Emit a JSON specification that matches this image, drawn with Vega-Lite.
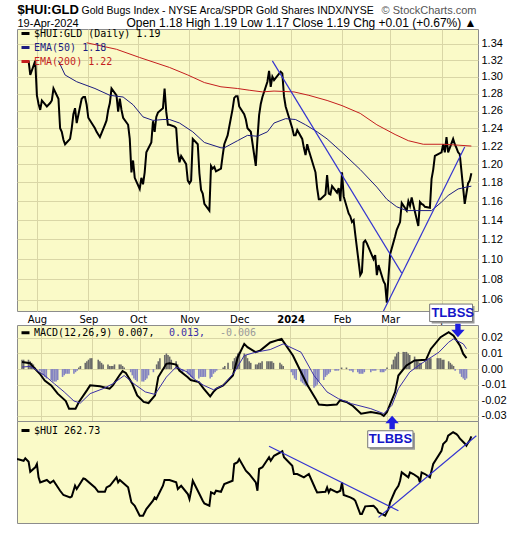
{
"$schema": "https://vega.github.io/schema/vega-lite/v6.json",
"background": "white",
"padding": {"left": 16, "top": 2, "right": 2, "bottom": 2},
"bounds": "flush",
"spacing": 14,
"resolve": {"scale": {"x": "independent", "y": "independent", "stroke": "independent"}, "legend": {"stroke": "independent"}},
"config": {
  "view": {"fill": "#fafac8", "stroke": "#8c8c8c"},
  "axis": {"gridColor": "#d9d6a6", "gridWidth": 1},
  "font": "Liberation Sans"
},
"datasets": {
"px": [
{"d":"2023-07-27","v":1.319},{"d":"2023-07-28","v":1.302},{"d":"2023-07-31","v":1.319},{"d":"2023-08-01","v":1.278},{"d":"2023-08-02","v":1.268},{"d":"2023-08-03","v":1.261},{"d":"2023-08-04","v":1.272},{"d":"2023-08-07","v":1.265},{"d":"2023-08-08","v":1.267},{"d":"2023-08-09","v":1.269},{"d":"2023-08-10","v":1.272},{"d":"2023-08-11","v":1.286},{"d":"2023-08-14","v":1.274},{"d":"2023-08-15","v":1.240},{"d":"2023-08-16","v":1.236},{"d":"2023-08-17","v":1.227},{"d":"2023-08-18","v":1.222},{"d":"2023-08-21","v":1.228},{"d":"2023-08-22","v":1.240},{"d":"2023-08-23","v":1.256},{"d":"2023-08-24","v":1.263},{"d":"2023-08-25","v":1.246},{"d":"2023-08-28","v":1.274},{"d":"2023-08-29","v":1.276},{"d":"2023-08-30","v":1.276},{"d":"2023-08-31","v":1.267},
{"d":"2023-09-01","v":1.252},{"d":"2023-09-05","v":1.240},{"d":"2023-09-06","v":1.236},{"d":"2023-09-07","v":1.233},{"d":"2023-09-08","v":1.230},{"d":"2023-09-11","v":1.244},{"d":"2023-09-12","v":1.249},{"d":"2023-09-13","v":1.261},{"d":"2023-09-14","v":1.269},{"d":"2023-09-15","v":1.286},{"d":"2023-09-18","v":1.278},{"d":"2023-09-19","v":1.259},{"d":"2023-09-20","v":1.274},{"d":"2023-09-21","v":1.261},{"d":"2023-09-22","v":1.252},{"d":"2023-09-25","v":1.244},{"d":"2023-09-26","v":1.228},{"d":"2023-09-27","v":1.191},{"d":"2023-09-28","v":1.204},{"d":"2023-09-29","v":1.185},
{"d":"2023-10-02","v":1.173},{"d":"2023-10-03","v":1.185},{"d":"2023-10-04","v":1.178},{"d":"2023-10-05","v":1.191},{"d":"2023-10-06","v":1.213},{"d":"2023-10-09","v":1.224},{"d":"2023-10-10","v":1.248},{"d":"2023-10-11","v":1.236},{"d":"2023-10-12","v":1.253},{"d":"2023-10-13","v":1.258},{"d":"2023-10-16","v":1.263},{"d":"2023-10-17","v":1.286},{"d":"2023-10-18","v":1.259},{"d":"2023-10-19","v":1.244},{"d":"2023-10-20","v":1.244},{"d":"2023-10-23","v":1.242},{"d":"2023-10-24","v":1.240},{"d":"2023-10-25","v":1.213},{"d":"2023-10-26","v":1.202},{"d":"2023-10-27","v":1.209},{"d":"2023-10-30","v":1.200},{"d":"2023-10-31","v":1.182},
{"d":"2023-11-01","v":1.179},{"d":"2023-11-02","v":1.182},{"d":"2023-11-03","v":1.228},{"d":"2023-11-06","v":1.222},{"d":"2023-11-07","v":1.190},{"d":"2023-11-08","v":1.172},{"d":"2023-11-09","v":1.168},{"d":"2023-11-10","v":1.157},{"d":"2023-11-13","v":1.150},{"d":"2023-11-14","v":1.198},{"d":"2023-11-15","v":1.195},{"d":"2023-11-16","v":1.197},{"d":"2023-11-17","v":1.192},{"d":"2023-11-20","v":1.195},{"d":"2023-11-21","v":1.209},{"d":"2023-11-22","v":1.222},{"d":"2023-11-24","v":1.232},{"d":"2023-11-27","v":1.262},{"d":"2023-11-28","v":1.275},{"d":"2023-11-29","v":1.277},{"d":"2023-11-30","v":1.277},
{"d":"2023-12-01","v":1.265},{"d":"2023-12-04","v":1.256},{"d":"2023-12-05","v":1.250},{"d":"2023-12-06","v":1.240},{"d":"2023-12-07","v":1.238},{"d":"2023-12-08","v":1.236},{"d":"2023-12-11","v":1.198},{"d":"2023-12-12","v":1.228},{"d":"2023-12-13","v":1.255},{"d":"2023-12-14","v":1.268},{"d":"2023-12-15","v":1.276},{"d":"2023-12-18","v":1.294},{"d":"2023-12-19","v":1.307},{"d":"2023-12-20","v":1.288},{"d":"2023-12-21","v":1.300},{"d":"2023-12-22","v":1.296},{"d":"2023-12-26","v":1.306},{"d":"2023-12-27","v":1.304},{"d":"2023-12-28","v":1.277},{"d":"2023-12-29","v":1.265},
{"d":"2024-01-02","v":1.240},{"d":"2024-01-03","v":1.232},{"d":"2024-01-04","v":1.232},{"d":"2024-01-05","v":1.238},{"d":"2024-01-08","v":1.228},{"d":"2024-01-09","v":1.218},{"d":"2024-01-10","v":1.210},{"d":"2024-01-11","v":1.222},{"d":"2024-01-12","v":1.215},{"d":"2024-01-16","v":1.191},{"d":"2024-01-17","v":1.174},{"d":"2024-01-18","v":1.162},{"d":"2024-01-19","v":1.162},{"d":"2024-01-22","v":1.167},{"d":"2024-01-23","v":1.188},{"d":"2024-01-24","v":1.168},{"d":"2024-01-25","v":1.167},{"d":"2024-01-26","v":1.176},{"d":"2024-01-29","v":1.169},{"d":"2024-01-30","v":1.174},{"d":"2024-01-31","v":1.160},
{"d":"2024-02-01","v":1.191},{"d":"2024-02-02","v":1.165},{"d":"2024-02-05","v":1.147},{"d":"2024-02-06","v":1.144},{"d":"2024-02-07","v":1.138},{"d":"2024-02-08","v":1.140},{"d":"2024-02-09","v":1.125},{"d":"2024-02-12","v":1.084},{"d":"2024-02-13","v":1.087},{"d":"2024-02-14","v":1.117},{"d":"2024-02-15","v":1.119},{"d":"2024-02-16","v":1.116},{"d":"2024-02-20","v":1.100},{"d":"2024-02-21","v":1.104},{"d":"2024-02-22","v":1.084},{"d":"2024-02-23","v":1.094},{"d":"2024-02-26","v":1.078},{"d":"2024-02-27","v":1.075},{"d":"2024-02-28","v":1.057},{"d":"2024-02-29","v":1.082},
{"d":"2024-03-01","v":1.105},{"d":"2024-03-04","v":1.123},{"d":"2024-03-05","v":1.130},{"d":"2024-03-06","v":1.134},{"d":"2024-03-07","v":1.138},{"d":"2024-03-08","v":1.158},{"d":"2024-03-11","v":1.150},{"d":"2024-03-12","v":1.160},{"d":"2024-03-13","v":1.155},{"d":"2024-03-14","v":1.164},{"d":"2024-03-15","v":1.156},{"d":"2024-03-18","v":1.134},{"d":"2024-03-19","v":1.159},{"d":"2024-03-20","v":1.157},{"d":"2024-03-21","v":1.156},{"d":"2024-03-22","v":1.154},{"d":"2024-03-25","v":1.153},{"d":"2024-03-26","v":1.184},{"d":"2024-03-27","v":1.194},{"d":"2024-03-28","v":1.209},
{"d":"2024-04-01","v":1.213},{"d":"2024-04-02","v":1.222},{"d":"2024-04-03","v":1.213},{"d":"2024-04-04","v":1.230},{"d":"2024-04-05","v":1.213},{"d":"2024-04-08","v":1.228},{"d":"2024-04-09","v":1.222},{"d":"2024-04-10","v":1.218},{"d":"2024-04-11","v":1.213},{"d":"2024-04-12","v":1.211},{"d":"2024-04-15","v":1.157},{"d":"2024-04-16","v":1.168},{"d":"2024-04-17","v":1.179},{"d":"2024-04-18","v":1.182},{"d":"2024-04-19","v":1.190}
],
"e50": [
{"d":"2023-08-14","v":1.319},{"d":"2023-08-18","v":1.302},{"d":"2023-08-25","v":1.294},{"d":"2023-09-05","v":1.286},{"d":"2023-09-14","v":1.278},{"d":"2023-09-22","v":1.276},{"d":"2023-09-28","v":1.267},{"d":"2023-10-04","v":1.253},{"d":"2023-10-10","v":1.249},{"d":"2023-10-16","v":1.250},{"d":"2023-10-20","v":1.250},{"d":"2023-10-26","v":1.246},{"d":"2023-11-03","v":1.236},{"d":"2023-11-10","v":1.224},{"d":"2023-11-20","v":1.218},{"d":"2023-11-22","v":1.218},{"d":"2023-11-30","v":1.226},{"d":"2023-12-06","v":1.232},{"d":"2023-12-12","v":1.231},{"d":"2023-12-18","v":1.236},{"d":"2023-12-22","v":1.246},{"d":"2023-12-29","v":1.251},{"d":"2024-01-04","v":1.250},{"d":"2024-01-10","v":1.244},{"d":"2024-01-17","v":1.236},{"d":"2024-01-23","v":1.228},{"d":"2024-02-01","v":1.213},{"d":"2024-02-12","v":1.194},{"d":"2024-02-22","v":1.175},{"d":"2024-02-28","v":1.162},{"d":"2024-03-05","v":1.154},{"d":"2024-03-11","v":1.150},{"d":"2024-03-19","v":1.150},{"d":"2024-03-26","v":1.150},{"d":"2024-04-01","v":1.159},{"d":"2024-04-05","v":1.166},{"d":"2024-04-11","v":1.173},{"d":"2024-04-16","v":1.175},{"d":"2024-04-19","v":1.176}
],
"e200": [
{"d":"2023-08-31","v":1.341},{"d":"2023-09-18","v":1.333},{"d":"2023-10-02","v":1.323},{"d":"2023-10-20","v":1.311},{"d":"2023-10-31","v":1.302},{"d":"2023-11-10","v":1.293},{"d":"2023-11-20","v":1.288},{"d":"2023-11-30","v":1.286},{"d":"2023-12-07","v":1.284},{"d":"2023-12-15","v":1.282},{"d":"2023-12-22","v":1.283},{"d":"2024-01-03","v":1.282},{"d":"2024-01-12","v":1.278},{"d":"2024-01-23","v":1.272},{"d":"2024-02-01","v":1.266},{"d":"2024-02-12","v":1.257},{"d":"2024-02-22","v":1.244},{"d":"2024-03-04","v":1.233},{"d":"2024-03-12","v":1.226},{"d":"2024-03-21","v":1.222},{"d":"2024-04-02","v":1.222},{"d":"2024-04-11","v":1.221},{"d":"2024-04-19","v":1.220}
],
"tl": [
{"line":"down","d":"2023-12-21","v":1.319},{"line":"down","d":"2024-03-08","v":1.086},
{"line":"up","d":"2024-02-26","v":1.049},{"line":"up","d":"2024-04-15","v":1.219}
],
"macd": [
{"d":"2023-07-20","v":0.0045},{"d":"2023-07-25","v":0.0038},{"d":"2023-07-27","v":0.0013},{"d":"2023-07-31","v":-0.003},{"d":"2023-08-03","v":-0.0073},{"d":"2023-08-07","v":-0.0104},{"d":"2023-08-11","v":-0.0157},{"d":"2023-08-16","v":-0.0204},{"d":"2023-08-18","v":-0.0253},{"d":"2023-08-22","v":-0.0253},{"d":"2023-08-24","v":-0.0212},{"d":"2023-08-29","v":-0.0136},{"d":"2023-08-31","v":-0.0104},{"d":"2023-09-06","v":-0.011},{"d":"2023-09-12","v":-0.0125},{"d":"2023-09-14","v":-0.0104},{"d":"2023-09-18","v":-0.0041},{"d":"2023-09-20","v":-0.0013},{"d":"2023-09-22","v":-0.0025},{"d":"2023-09-26","v":-0.0094},{"d":"2023-09-29","v":-0.0168},{"d":"2023-10-03","v":-0.021},{"d":"2023-10-06","v":-0.0217},{"d":"2023-10-10","v":-0.0168},{"d":"2023-10-12","v":-0.0051},{"d":"2023-10-17","v":0.0034},{"d":"2023-10-19","v":0.0038},{"d":"2023-10-23","v":0.0029},{"d":"2023-10-25","v":-0.0009},{"d":"2023-10-30","v":-0.0051},{"d":"2023-11-01","v":-0.007},{"d":"2023-11-06","v":-0.0083},{"d":"2023-11-09","v":-0.0125},{"d":"2023-11-13","v":-0.0175},{"d":"2023-11-15","v":-0.0146},{"d":"2023-11-17","v":-0.0125},{"d":"2023-11-21","v":-0.0104},{"d":"2023-11-27","v":-0.0041},{"d":"2023-11-30","v":0.0076},{"d":"2023-12-04","v":0.0161},{"d":"2023-12-06","v":0.014},{"d":"2023-12-11","v":0.0108},{"d":"2023-12-14","v":0.012},{"d":"2023-12-20","v":0.017},{"d":"2023-12-27","v":0.0193},{"d":"2024-01-03","v":0.0087},{"d":"2024-01-09","v":-0.0041},{"d":"2024-01-12","v":-0.0104},{"d":"2024-01-17","v":-0.0189},{"d":"2024-01-19","v":-0.0227},{"d":"2024-01-24","v":-0.0232},{"d":"2024-01-30","v":-0.0227},{"d":"2024-02-01","v":-0.02},{"d":"2024-02-05","v":-0.021},{"d":"2024-02-09","v":-0.0236},{"d":"2024-02-14","v":-0.0285},{"d":"2024-02-20","v":-0.0275},{"d":"2024-02-26","v":-0.0285},{"d":"2024-02-28","v":-0.03},{"d":"2024-03-01","v":-0.0274},{"d":"2024-03-06","v":-0.0147},{"d":"2024-03-08","v":-0.0041},{"d":"2024-03-13","v":0.0023},{"d":"2024-03-18","v":0.0055},{"d":"2024-03-25","v":0.0059},{"d":"2024-03-28","v":0.0129},{"d":"2024-04-03","v":0.0204},{"d":"2024-04-08","v":0.0236},{"d":"2024-04-11","v":0.0214},{"d":"2024-04-15","v":0.015},{"d":"2024-04-17","v":0.0097},{"d":"2024-04-19","v":0.007}
],
"sig": [
{"d":"2023-07-20","v":0.0013},{"d":"2023-07-25","v":0.0017},{"d":"2023-07-28","v":0.0},{"d":"2023-08-03","v":-0.0041},{"d":"2023-08-09","v":-0.0094},{"d":"2023-08-15","v":-0.0146},{"d":"2023-08-21","v":-0.0204},{"d":"2023-08-25","v":-0.0217},{"d":"2023-08-31","v":-0.0157},{"d":"2023-09-08","v":-0.0125},{"d":"2023-09-14","v":-0.0094},{"d":"2023-09-21","v":-0.0041},{"d":"2023-09-27","v":-0.0094},{"d":"2023-10-04","v":-0.0146},{"d":"2023-10-10","v":-0.0162},{"d":"2023-10-17","v":-0.0051},{"d":"2023-10-23","v":0.0013},{"d":"2023-10-30","v":-0.0019},{"d":"2023-11-03","v":-0.0062},{"d":"2023-11-09","v":-0.0104},{"d":"2023-11-15","v":-0.0132},{"d":"2023-11-21","v":-0.0104},{"d":"2023-11-28","v":-0.0019},{"d":"2023-12-04","v":0.0087},{"d":"2023-12-11","v":0.0108},{"d":"2023-12-20","v":0.0125},{"d":"2023-12-28","v":0.0161},{"d":"2024-01-08","v":0.0108},{"d":"2024-01-16","v":-0.0041},{"d":"2024-01-24","v":-0.0146},{"d":"2024-01-31","v":-0.0189},{"d":"2024-02-08","v":-0.0221},{"d":"2024-02-20","v":-0.0253},{"d":"2024-02-28","v":-0.0285},{"d":"2024-03-04","v":-0.0232},{"d":"2024-03-08","v":-0.0125},{"d":"2024-03-15","v":-0.0019},{"d":"2024-03-22","v":0.0034},{"d":"2024-04-02","v":0.0108},{"d":"2024-04-08","v":0.0172},{"d":"2024-04-11","v":0.0193},{"d":"2024-04-17","v":0.0161},{"d":"2024-04-19","v":0.013}
],
"hist": [
{"d":"2023-07-20","h":0.006},{"d":"2023-07-21","h":0.006},{"d":"2023-07-24","h":0.006},{"d":"2023-07-25","h":0.005},{"d":"2023-07-26","h":0.004},{"d":"2023-07-27","h":0.003},{"d":"2023-07-28","h":0.001},{"d":"2023-07-31","h":-0.001},
{"d":"2023-08-01","h":-0.002},{"d":"2023-08-02","h":-0.004},{"d":"2023-08-03","h":-0.005},{"d":"2023-08-04","h":-0.006},{"d":"2023-08-07","h":-0.007},{"d":"2023-08-08","h":-0.008},{"d":"2023-08-09","h":-0.008},{"d":"2023-08-10","h":-0.008},{"d":"2023-08-11","h":-0.007},{"d":"2023-08-14","h":-0.005},{"d":"2023-08-15","h":-0.004},{"d":"2023-08-16","h":-0.003},{"d":"2023-08-17","h":-0.003},{"d":"2023-08-18","h":-0.003},{"d":"2023-08-21","h":-0.003},{"d":"2023-08-22","h":-0.002},{"d":"2023-08-23","h":-0.001},{"d":"2023-08-24","h":0.001},{"d":"2023-08-25","h":0.002},{"d":"2023-08-28","h":0.004},{"d":"2023-08-29","h":0.005},{"d":"2023-08-30","h":0.006},{"d":"2023-08-31","h":0.007},
{"d":"2023-09-01","h":0.007},{"d":"2023-09-05","h":0.006},{"d":"2023-09-06","h":0.005},{"d":"2023-09-07","h":0.004},{"d":"2023-09-08","h":0.003},{"d":"2023-09-11","h":0.003},{"d":"2023-09-12","h":0.002},{"d":"2023-09-13","h":0.002},{"d":"2023-09-14","h":0.002},{"d":"2023-09-15","h":0.003},{"d":"2023-09-18","h":0.003},{"d":"2023-09-19","h":0.003},{"d":"2023-09-20","h":0.002},{"d":"2023-09-21","h":0.001},{"d":"2023-09-22","h":0.0},{"d":"2023-09-25","h":-0.002},{"d":"2023-09-26","h":-0.004},{"d":"2023-09-27","h":-0.006},{"d":"2023-09-28","h":-0.007},{"d":"2023-09-29","h":-0.008},
{"d":"2023-10-02","h":-0.008},{"d":"2023-10-03","h":-0.008},{"d":"2023-10-04","h":-0.007},{"d":"2023-10-05","h":-0.006},{"d":"2023-10-06","h":-0.004},{"d":"2023-10-09","h":-0.002},{"d":"2023-10-10","h":0.0},{"d":"2023-10-11","h":0.003},{"d":"2023-10-12","h":0.005},{"d":"2023-10-13","h":0.007},{"d":"2023-10-16","h":0.009},{"d":"2023-10-17","h":0.010},{"d":"2023-10-18","h":0.009},{"d":"2023-10-19","h":0.008},{"d":"2023-10-20","h":0.006},{"d":"2023-10-23","h":0.005},{"d":"2023-10-24","h":0.003},{"d":"2023-10-25","h":0.001},{"d":"2023-10-26","h":-0.001},{"d":"2023-10-27","h":-0.002},{"d":"2023-10-30","h":-0.003},{"d":"2023-10-31","h":-0.004},
{"d":"2023-11-01","h":-0.005},{"d":"2023-11-02","h":-0.006},{"d":"2023-11-03","h":-0.006},{"d":"2023-11-06","h":-0.006},{"d":"2023-11-07","h":-0.005},{"d":"2023-11-08","h":-0.005},{"d":"2023-11-09","h":-0.005},{"d":"2023-11-10","h":-0.005},{"d":"2023-11-13","h":-0.006},{"d":"2023-11-14","h":-0.005},{"d":"2023-11-15","h":-0.003},{"d":"2023-11-16","h":-0.002},{"d":"2023-11-17","h":-0.001},{"d":"2023-11-20","h":0.0},{"d":"2023-11-21","h":0.001},{"d":"2023-11-22","h":0.002},{"d":"2023-11-24","h":0.004},{"d":"2023-11-27","h":0.005},{"d":"2023-11-28","h":0.007},{"d":"2023-11-29","h":0.008},{"d":"2023-11-30","h":0.010},
{"d":"2023-12-01","h":0.011},{"d":"2023-12-04","h":0.010},{"d":"2023-12-05","h":0.009},{"d":"2023-12-06","h":0.007},{"d":"2023-12-07","h":0.005},{"d":"2023-12-08","h":0.004},{"d":"2023-12-11","h":0.003},{"d":"2023-12-12","h":0.003},{"d":"2023-12-13","h":0.004},{"d":"2023-12-14","h":0.004},{"d":"2023-12-15","h":0.005},{"d":"2023-12-18","h":0.005},{"d":"2023-12-19","h":0.005},{"d":"2023-12-20","h":0.005},{"d":"2023-12-21","h":0.005},{"d":"2023-12-22","h":0.004},{"d":"2023-12-26","h":0.004},{"d":"2023-12-27","h":0.003},{"d":"2023-12-28","h":0.002},{"d":"2023-12-29","h":0.0},
{"d":"2024-01-02","h":-0.002},{"d":"2024-01-03","h":-0.004},{"d":"2024-01-04","h":-0.006},{"d":"2024-01-05","h":-0.007},{"d":"2024-01-08","h":-0.008},{"d":"2024-01-09","h":-0.009},{"d":"2024-01-10","h":-0.010},{"d":"2024-01-11","h":-0.011},{"d":"2024-01-12","h":-0.011},{"d":"2024-01-16","h":-0.012},{"d":"2024-01-17","h":-0.011},{"d":"2024-01-18","h":-0.010},{"d":"2024-01-19","h":-0.008},{"d":"2024-01-22","h":-0.007},{"d":"2024-01-23","h":-0.005},{"d":"2024-01-24","h":-0.004},{"d":"2024-01-25","h":-0.003},{"d":"2024-01-26","h":-0.002},{"d":"2024-01-29","h":-0.001},{"d":"2024-01-30","h":-0.001},{"d":"2024-01-31","h":-0.001},
{"d":"2024-02-01","h":0.0},{"d":"2024-02-02","h":0.001},{"d":"2024-02-05","h":0.001},{"d":"2024-02-06","h":0.0},{"d":"2024-02-07","h":-0.001},{"d":"2024-02-08","h":-0.001},{"d":"2024-02-09","h":-0.002},{"d":"2024-02-12","h":-0.002},{"d":"2024-02-13","h":-0.003},{"d":"2024-02-14","h":-0.003},{"d":"2024-02-15","h":-0.003},{"d":"2024-02-16","h":-0.002},{"d":"2024-02-20","h":-0.002},{"d":"2024-02-21","h":-0.001},{"d":"2024-02-22","h":-0.001},{"d":"2024-02-23","h":-0.001},{"d":"2024-02-26","h":-0.002},{"d":"2024-02-27","h":-0.002},{"d":"2024-02-28","h":-0.002},{"d":"2024-02-29","h":-0.001},
{"d":"2024-03-01","h":0.001},{"d":"2024-03-04","h":0.003},{"d":"2024-03-05","h":0.006},{"d":"2024-03-06","h":0.008},{"d":"2024-03-07","h":0.010},{"d":"2024-03-08","h":0.011},{"d":"2024-03-11","h":0.011},{"d":"2024-03-12","h":0.011},{"d":"2024-03-13","h":0.011},{"d":"2024-03-14","h":0.010},{"d":"2024-03-15","h":0.009},{"d":"2024-03-18","h":0.008},{"d":"2024-03-19","h":0.006},{"d":"2024-03-20","h":0.005},{"d":"2024-03-21","h":0.004},{"d":"2024-03-22","h":0.004},{"d":"2024-03-25","h":0.005},{"d":"2024-03-26","h":0.006},{"d":"2024-03-27","h":0.007},{"d":"2024-03-28","h":0.007},
{"d":"2024-04-01","h":0.007},{"d":"2024-04-02","h":0.007},{"d":"2024-04-03","h":0.007},{"d":"2024-04-04","h":0.006},{"d":"2024-04-05","h":0.006},{"d":"2024-04-08","h":0.005},{"d":"2024-04-09","h":0.004},{"d":"2024-04-10","h":0.003},{"d":"2024-04-11","h":0.002},{"d":"2024-04-12","h":-0.001},{"d":"2024-04-15","h":-0.003},{"d":"2024-04-16","h":-0.005},{"d":"2024-04-17","h":-0.006},{"d":"2024-04-18","h":-0.007},{"d":"2024-04-19","h":-0.006}
],
"hui": [
{"d":"2023-07-20","v":244.6},{"d":"2023-07-24","v":243.2},{"d":"2023-07-25","v":245.2},{"d":"2023-07-27","v":242.4},{"d":"2023-07-28","v":234.4},{"d":"2023-07-31","v":237.9},{"d":"2023-08-01","v":240.6},{"d":"2023-08-02","v":229.9},{"d":"2023-08-03","v":225.9},{"d":"2023-08-07","v":227.8},{"d":"2023-08-09","v":225.4},{"d":"2023-08-11","v":227.2},{"d":"2023-08-15","v":219.2},{"d":"2023-08-17","v":215.8},{"d":"2023-08-21","v":213.9},{"d":"2023-08-22","v":214.5},{"d":"2023-08-24","v":223.2},{"d":"2023-08-25","v":220.6},{"d":"2023-08-29","v":229.1},{"d":"2023-08-30","v":228.6},{"d":"2023-09-05","v":221.9},{"d":"2023-09-07","v":218.4},{"d":"2023-09-11","v":218.4},{"d":"2023-09-12","v":221.9},{"d":"2023-09-14","v":223.2},{"d":"2023-09-18","v":229.9},{"d":"2023-09-19","v":226.0},{"d":"2023-09-20","v":227.8},{"d":"2023-09-25","v":221.9},{"d":"2023-09-27","v":209.9},{"d":"2023-09-29","v":207.2},{"d":"2023-10-02","v":199.2},{"d":"2023-10-04","v":199.2},{"d":"2023-10-06","v":204.6},{"d":"2023-10-10","v":211.2},{"d":"2023-10-11","v":213.9},{"d":"2023-10-12","v":212.6},{"d":"2023-10-16","v":223.2},{"d":"2023-10-17","v":227.8},{"d":"2023-10-20","v":227.8},{"d":"2023-10-24","v":226.0},{"d":"2023-10-25","v":220.6},{"d":"2023-10-27","v":223.2},{"d":"2023-10-31","v":216.6},{"d":"2023-11-01","v":212.6},{"d":"2023-11-02","v":219.2},{"d":"2023-11-03","v":227.2},{"d":"2023-11-07","v":216.6},{"d":"2023-11-09","v":211.2},{"d":"2023-11-10","v":209.0},{"d":"2023-11-13","v":207.2},{"d":"2023-11-14","v":217.9},{"d":"2023-11-16","v":216.6},{"d":"2023-11-17","v":219.2},{"d":"2023-11-20","v":218.4},{"d":"2023-11-22","v":224.6},{"d":"2023-11-27","v":227.2},{"d":"2023-11-28","v":240.6},{"d":"2023-11-30","v":242.0},{"d":"2023-12-01","v":244.6},{"d":"2023-12-05","v":235.2},{"d":"2023-12-07","v":232.6},{"d":"2023-12-11","v":225.9},{"d":"2023-12-12","v":219.2},{"d":"2023-12-13","v":236.6},{"d":"2023-12-15","v":238.0},{"d":"2023-12-19","v":246.0},{"d":"2023-12-20","v":243.2},{"d":"2023-12-22","v":247.2},{"d":"2023-12-27","v":250.8},{"d":"2023-12-28","v":246.0},{"d":"2024-01-02","v":239.2},{"d":"2024-01-03","v":232.6},{"d":"2024-01-05","v":232.6},{"d":"2024-01-09","v":229.9},{"d":"2024-01-12","v":232.6},{"d":"2024-01-16","v":220.6},{"d":"2024-01-17","v":217.9},{"d":"2024-01-22","v":218.4},{"d":"2024-01-23","v":221.9},{"d":"2024-01-24","v":217.9},{"d":"2024-01-25","v":220.6},{"d":"2024-01-29","v":217.9},{"d":"2024-01-31","v":219.2},{"d":"2024-02-01","v":225.9},{"d":"2024-02-02","v":215.8},{"d":"2024-02-06","v":213.9},{"d":"2024-02-08","v":212.6},{"d":"2024-02-09","v":211.2},{"d":"2024-02-12","v":200.6},{"d":"2024-02-13","v":200.6},{"d":"2024-02-15","v":206.7},{"d":"2024-02-20","v":207.2},{"d":"2024-02-22","v":204.6},{"d":"2024-02-23","v":201.9},{"d":"2024-02-27","v":199.2},{"d":"2024-02-29","v":204.6},{"d":"2024-03-01","v":210.0},{"d":"2024-03-04","v":219.2},{"d":"2024-03-06","v":223.2},{"d":"2024-03-07","v":227.2},{"d":"2024-03-08","v":233.9},{"d":"2024-03-12","v":229.9},{"d":"2024-03-13","v":233.9},{"d":"2024-03-15","v":232.6},{"d":"2024-03-18","v":229.9},{"d":"2024-03-19","v":225.9},{"d":"2024-03-20","v":233.9},{"d":"2024-03-22","v":232.6},{"d":"2024-03-25","v":229.9},{"d":"2024-03-27","v":240.6},{"d":"2024-04-01","v":251.2},{"d":"2024-04-02","v":256.6},{"d":"2024-04-04","v":259.2},{"d":"2024-04-05","v":263.2},{"d":"2024-04-08","v":266.0},{"d":"2024-04-10","v":264.6},{"d":"2024-04-11","v":263.2},{"d":"2024-04-12","v":261.0},{"d":"2024-04-15","v":257.0},{"d":"2024-04-16","v":255.2},{"d":"2024-04-17","v":257.5},{"d":"2024-04-18","v":259.5},{"d":"2024-04-19","v":262.73}
],
"htl": [
{"line":"down","d":"2023-12-19","v":254.8},{"line":"down","d":"2024-03-06","v":203.2},
{"line":"up","d":"2024-02-23","v":197.9},{"line":"up","d":"2024-04-22","v":263.2}
]
},
"vconcat": [
{
 "width": 461, "height": 282,
 "resolve": {"axis": {"x": "independent", "y": "independent"}},
 "layer": [
  {
   "data": {"name": "px"},
   "mark": {"type": "line", "strokeWidth": 2, "clip": true},
   "encoding": {
    "x": {"field": "d", "type": "temporal",
      "scale": {"type": "utc", "domain": [{"year": 2023, "month": 7, "date": 20, "utc": true}, {"year": 2024, "month": 4, "date": 23, "utc": true}]},
      "axis": {"orient": "bottom", "tickCount": {"interval": "month", "step": 1},
        "labelExpr": "utcmonth(datum.value) == 0 ? utcFormat(datum.value, '%Y') : utcFormat(datum.value, '%b')",
        "labelFontWeight": {"condition": {"test": "utcmonth(datum.value) == 0", "value": "bold"}, "value": "normal"},
        "grid": true, "ticks": false, "domain": false, "labelPadding": 3, "labelFont": "DejaVu Sans", "labelFontSize": 10, "labelColor": "#000000", "labelFlush": false, "labelOverlap": false, "labelBound": false,
        "title": "$HUI:GLD", "titleX": 0, "titleY": -298, "titleAlign": "left", "titleBaseline": "alphabetic", "titleFont": "Liberation Sans", "titleFontSize": 13, "titleFontWeight": "bold", "titleColor": "#000000"}},
    "y": {"field": "v", "type": "quantitative",
      "scale": {"type": "log", "domain": [1.049, 1.358], "nice": false, "zero": false},
      "axis": {"orient": "right", "values": [1.06,1.08,1.10,1.12,1.14,1.16,1.18,1.20,1.22,1.24,1.26,1.28,1.30,1.32,1.34], "format": ".2f",
        "grid": true, "ticks": false, "domain": false, "labelPadding": 3, "labelFont": "Liberation Sans", "labelFontSize": 11, "labelColor": "#000000",
        "title": "© StockCharts.com", "titleAngle": 0, "titleX": -2, "titleY": -16, "titleAlign": "right", "titleBaseline": "alphabetic", "titleFont": "Liberation Sans", "titleFontSize": 11, "titleFontWeight": "normal", "titleColor": "#555555"}},
    "stroke": {"datum": "$HUI:GLD (Daily) 1.19",
      "scale": {"domain": ["$HUI:GLD (Daily) 1.19", "EMA(50) 1.18", "EMA(200) 1.22"], "range": ["#000000", "#1c1c80", "#c41e1e"]},
      "legend": {"title": null, "orient": "none", "legendX": 3, "legendY": -1, "symbolType": "stroke", "symbolStrokeWidth": 3, "symbolSize": 64, "labelFont": "DejaVu Sans Mono", "labelFontSize": 10, "rowPadding": 1, "padding": 0, "labelOffset": 3,
        "encode": {"labels": {"update": {"fill": {"signal": "datum.value == 'EMA(50) 1.18' ? '#1c1c80' : datum.value == 'EMA(200) 1.22' ? '#c41e1e' : '#000000'"}}}}}}
   }
  },
  {
   "data": {"name": "e50"},
   "mark": {"type": "line", "strokeWidth": 1, "clip": true},
   "encoding": {
    "x": {"field": "d", "type": "temporal",
      "axis": {"orient": "top", "labels": false, "ticks": false, "domain": false, "grid": false,
        "title": "Gold Bugs Index - NYSE Arca/SPDR Gold Shares INDX/NYSE", "titleX": 64, "titleY": -16, "titleAlign": "left", "titleBaseline": "alphabetic", "titleFont": "Liberation Sans", "titleFontSize": 10.5, "titleFontWeight": "normal", "titleColor": "#000000"}},
    "y": {"field": "v", "type": "quantitative",
      "axis": {"orient": "left", "labels": false, "ticks": false, "domain": false, "grid": false,
        "title": "19-Apr-2024", "titleAngle": 0, "titleX": 0, "titleY": -3, "titleAlign": "left", "titleBaseline": "alphabetic", "titleFont": "Liberation Sans", "titleFontSize": 11, "titleFontWeight": "normal", "titleColor": "#000000"}},
    "stroke": {"datum": "EMA(50) 1.18"}
   }
  },
  {
   "data": {"name": "e200"},
   "mark": {"type": "line", "strokeWidth": 1, "clip": true},
   "encoding": {
    "x": {"field": "d", "type": "temporal", "axis": null},
    "y": {"field": "v", "type": "quantitative", "axis": null},
    "stroke": {"datum": "EMA(200) 1.22"}
   }
  },
  {
   "data": {"name": "tl"},
   "mark": {"type": "line", "strokeWidth": 1.2, "color": "#3434d0", "clip": true},
   "encoding": {
    "x": {"field": "d", "type": "temporal", "axis": null},
    "y": {"field": "v", "type": "quantitative", "axis": null},
    "detail": {"field": "line"}
   }
  }
 ]
},
{
 "bounds": "flush",
 "spacing": 0,
 "resolve": {"scale": {"x": "independent", "y": "independent", "stroke": "independent"}, "legend": {"stroke": "independent"}},
 "vconcat": [
  {
   "width": 461, "height": 96,
   "resolve": {"axis": {"x": "independent", "y": "independent"}},
   "layer": [
    {
     "data": {"name": "hist"},
     "mark": {"type": "bar", "size": 1.6},
     "encoding": {
      "x": {"field": "d", "type": "temporal",
        "scale": {"type": "utc", "domain": [{"year": 2023, "month": 7, "date": 20, "utc": true}, {"year": 2024, "month": 4, "date": 23, "utc": true}]},
        "axis": {"orient": "bottom", "tickCount": {"interval": "month", "step": 1}, "grid": true, "labels": false, "ticks": false, "domain": false, "title": null}},
      "y": {"field": "h", "type": "quantitative",
        "scale": {"domain": [-0.0332, 0.0282], "nice": false, "zero": false},
        "axis": {"orient": "right", "values": [-0.03, -0.02, -0.01, 0, 0.01, 0.02], "labelExpr": "replace(format(datum.value, '.2f'), '\u2212', '-')",
          "grid": true, "ticks": false, "domain": false, "labelPadding": 3, "labelFont": "Liberation Sans", "labelFontSize": 11, "labelColor": "#000000", "title": null}},
      "y2": {"datum": 0},
      "color": {"condition": {"test": "datum.h >= 0", "value": "#6a6a6a"}, "value": "#8484c2"}
     }
    },
    {
     "data": {"name": "macd"},
     "mark": {"type": "line", "strokeWidth": 2, "clip": true},
     "encoding": {
      "x": {"field": "d", "type": "temporal",
        "axis": {"orient": "top", "labels": false, "ticks": false, "domain": false, "grid": false,
          "title": "Open 1.18  High 1.19  Low 1.17  Close 1.19  Chg +0.01 (+0.67%) ▲", "titleX": 459, "titleY": -298.5, "titleAlign": "right", "titleBaseline": "alphabetic", "titleFont": "Liberation Sans", "titleFontSize": 12, "titleFontWeight": "normal", "titleColor": "#000000"}},
      "y": {"field": "v", "type": "quantitative", "axis": null},
      "stroke": {"datum": "MACD(12,26,9) 0.007,",
        "scale": {"domain": ["MACD(12,26,9) 0.007,", "0.013,", "-0.006"], "range": ["#000000", "#3a2fa8", "#999999"]},
        "legend": {"title": null, "orient": "none", "legendX": 3, "legendY": 2, "direction": "horizontal", "columnPadding": -8, "symbolType": "stroke", "symbolStrokeWidth": 3, "symbolSize": 64, "labelFont": "DejaVu Sans Mono", "labelFontSize": 10, "padding": 0, "labelOffset": 3,
          "encode": {"labels": {"update": {"fill": {"signal": "datum.value == '0.013,' ? '#3a2fa8' : datum.value == '-0.006' ? '#999999' : '#000000'"}}},
                     "symbols": {"update": {"opacity": {"signal": "datum.value == 'MACD(12,26,9) 0.007,' ? 1 : 0"}}}}}}
     }
    },
    {
     "data": {"name": "sig"},
     "mark": {"type": "line", "strokeWidth": 1, "clip": true},
     "encoding": {
      "x": {"field": "d", "type": "temporal", "axis": null},
      "y": {"field": "v", "type": "quantitative", "axis": null},
      "stroke": {"datum": "0.013,"}
     }
    },
    {
     "data": {"values": [{}]},
     "mark": {"type": "rect", "fill": "#9a9a9a", "xOffset": 2, "yOffset": 2, "x2Offset": 2, "y2Offset": 2},
     "encoding": {
      "x": {"datum": {"year": 2024, "month": 3, "date": 27, "hours": 7, "utc": true}, "type": "temporal", "axis": null},
      "x2": {"datum": {"year": 2024, "month": 4, "date": 22, "hours": 17, "utc": true}},
      "y": {"datum": 0.0304, "type": "quantitative", "axis": null},
      "y2": {"datum": 0.0416}
     }
    },
    {
     "data": {"values": [{}]},
     "mark": {"type": "rect", "fill": "#ffffff", "stroke": "#777777", "strokeWidth": 1},
     "encoding": {
      "x": {"datum": {"year": 2024, "month": 3, "date": 27, "hours": 7, "utc": true}, "type": "temporal", "axis": null},
      "x2": {"datum": {"year": 2024, "month": 4, "date": 22, "hours": 17, "utc": true}},
      "y": {"datum": 0.0304, "type": "quantitative", "axis": null},
      "y2": {"datum": 0.0416}
     }
    },
    {
     "data": {"values": [{}]},
     "mark": {"type": "text", "text": "TLBSS", "font": "Liberation Sans", "fontSize": 13, "fontWeight": "bold", "color": "#1515c8", "align": "center", "baseline": "middle"},
     "encoding": {
      "x": {"datum": {"year": 2024, "month": 4, "date": 10, "hours": 12, "utc": true}, "type": "temporal", "axis": null},
      "y": {"datum": 0.0361, "type": "quantitative", "axis": null}
     }
    },
    {
     "data": {"values": [{}]},
     "mark": {"type": "point", "shape": "M-0.4,-1L0.4,-1L0.4,-0.1L1,-0.1L0,1L-1,-0.1L-0.4,-0.1Z", "filled": true, "color": "#1e1ee0", "opacity": 1, "size": 180},
     "encoding": {
      "x": {"datum": {"year": 2024, "month": 4, "date": 13, "hours": 17, "utc": true}, "type": "temporal", "axis": null},
      "y": {"datum": 0.0247, "type": "quantitative", "axis": null}
     }
    }
   ]
  },
  {
   "width": 461, "height": 102,
   "layer": [
    {
     "data": {"name": "hui"},
     "mark": {"type": "line", "strokeWidth": 2, "clip": true},
     "encoding": {
      "x": {"field": "d", "type": "temporal",
        "scale": {"type": "utc", "domain": [{"year": 2023, "month": 7, "date": 20, "utc": true}, {"year": 2024, "month": 4, "date": 23, "utc": true}]},
        "axis": {"orient": "bottom", "tickCount": {"interval": "month", "step": 1},
          "labelExpr": "utcmonth(datum.value) == 0 ? utcFormat(datum.value, '%Y') : utcFormat(datum.value, '%b')",
          "labelFontWeight": {"condition": {"test": "utcmonth(datum.value) == 0", "value": "bold"}, "value": "normal"},
          "grid": true, "ticks": false, "domain": false, "labelPadding": 3, "labelFont": "DejaVu Sans", "labelFontSize": 10, "labelColor": "#000000", "labelFlush": false, "labelOverlap": false, "labelBound": false, "title": null}},
      "y": {"field": "v", "type": "quantitative",
        "scale": {"domain": [193.4, 275], "nice": false, "zero": false},
        "axis": {"orient": "right", "values": [200, 210, 220, 230, 240, 250, 260, 270], "grid": true, "ticks": false, "domain": false, "labelPadding": 3, "labelFont": "Liberation Sans", "labelFontSize": 11, "labelColor": "#000000", "title": null}},
      "stroke": {"datum": "$HUI 262.73",
        "scale": {"domain": ["$HUI 262.73"], "range": ["#000000"]},
        "legend": {"title": null, "orient": "none", "legendX": 3, "legendY": 4, "symbolType": "stroke", "symbolStrokeWidth": 3, "symbolSize": 64, "labelFont": "DejaVu Sans Mono", "labelFontSize": 10, "padding": 0, "labelOffset": 3}}
     }
    },
    {
     "data": {"name": "htl"},
     "mark": {"type": "line", "strokeWidth": 1.2, "color": "#3434d0", "clip": true},
     "encoding": {
      "x": {"field": "d", "type": "temporal", "axis": null},
      "y": {"field": "v", "type": "quantitative", "axis": null},
      "detail": {"field": "line"}
     }
    },
    {
     "data": {"values": [{}]},
     "mark": {"type": "rect", "fill": "#9a9a9a", "xOffset": 2, "yOffset": 2, "x2Offset": 2, "y2Offset": 2},
     "encoding": {
      "x": {"datum": {"year": 2024, "month": 2, "date": 16, "hours": 12, "utc": true}, "type": "temporal", "axis": null},
      "x2": {"datum": {"year": 2024, "month": 3, "date": 14, "hours": 19, "utc": true}},
      "y": {"datum": 253.6, "type": "quantitative", "axis": null},
      "y2": {"datum": 267.2}
     }
    },
    {
     "data": {"values": [{}]},
     "mark": {"type": "rect", "fill": "#ffffff", "stroke": "#777777", "strokeWidth": 1},
     "encoding": {
      "x": {"datum": {"year": 2024, "month": 2, "date": 16, "hours": 12, "utc": true}, "type": "temporal", "axis": null},
      "x2": {"datum": {"year": 2024, "month": 3, "date": 14, "hours": 19, "utc": true}},
      "y": {"datum": 253.6, "type": "quantitative", "axis": null},
      "y2": {"datum": 267.2}
     }
    },
    {
     "data": {"values": [{}]},
     "mark": {"type": "text", "text": "TLBBS", "font": "Liberation Sans", "fontSize": 13, "fontWeight": "bold", "color": "#1515c8", "align": "center", "baseline": "middle"},
     "encoding": {
      "x": {"datum": {"year": 2024, "month": 3, "date": 1, "hours": 5, "utc": true}, "type": "temporal", "axis": null},
      "y": {"datum": 260.4, "type": "quantitative", "axis": null}
     }
    },
    {
     "data": {"values": [{}]},
     "mark": {"type": "point", "shape": "M-0.4,1L0.4,1L0.4,0.1L1,0.1L0,-1L-1,0.1L-0.4,0.1Z", "filled": true, "color": "#1e1ee0", "opacity": 1, "size": 180},
     "encoding": {
      "x": {"datum": {"year": 2024, "month": 3, "date": 2, "hours": 5, "utc": true}, "type": "temporal", "axis": null},
      "y": {"datum": 273.8, "type": "quantitative", "axis": null}
     }
    }
   ]
  }
 ]
}
]
}
